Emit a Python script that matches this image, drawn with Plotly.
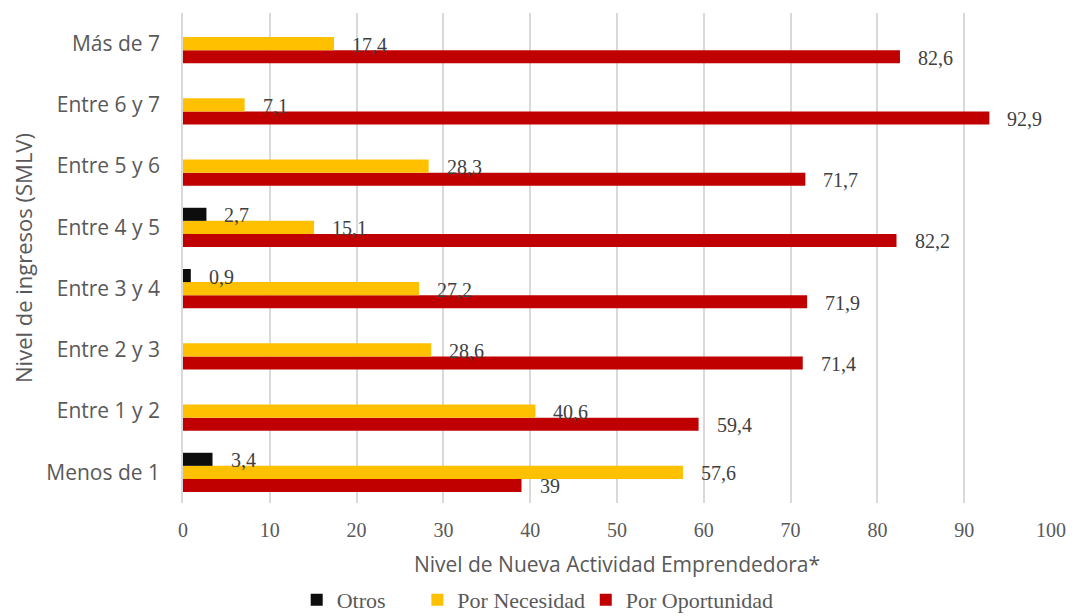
import plotly.graph_objects as go

categories = ["Menos de 1", "Entre 1 y 2", "Entre 2 y 3", "Entre 3 y 4",
              "Entre 4 y 5", "Entre 5 y 6", "Entre 6 y 7", "Más de 7"]
otros = [3.4, None, None, 0.9, 2.7, None, None, None]
por_necesidad = [57.6, 40.6, 28.6, 27.2, 15.1, 28.3, 7.1, 17.4]
por_oportunidad = [39, 59.4, 71.4, 71.9, 82.2, 71.7, 92.9, 82.6]
x_ticks = [0, 10, 20, 30, 40, 50, 60, 70, 80, 90, 100]

# name, values, colour, legend id, legend x (paper)
series = [
    ("Por Oportunidad", por_oportunidad, "#C00000", "legend3", 0.464),
    ("Por Necesidad", por_necesidad, "#FFC000", "legend2", 0.270),
    ("Otros", otros, "#0D0D0D", "legend", 0.131),
]

SERIF = "Liberation Serif, Times New Roman, serif"
SANS = "Open Sans, Noto Sans, sans-serif"
GREY = "#595959"

W, H = 1070, 608
M_L, M_R, M_T, M_B = 175, 27, 5, 113


def fmt(v):
    s = f"{v:.1f}"
    if s.endswith(".0"):
        s = s[:-2]
    return s.replace(".", ",")


fig = go.Figure()
for name, vals, color, leg, lx in series:
    fig.add_trace(go.Bar(
        name=name, y=categories, x=vals, orientation="h",
        marker=dict(color=color, line=dict(width=0)),
        legend=leg,
    ))

plot_h = H - M_T - M_B
slot = plot_h / len(categories)
bargap = 0.36
bar_h = slot * (1 - bargap) / 3
offsets = [-bar_h, 0, bar_h]  # red (bottom), yellow (middle), black (top)
annotations = []
for (name, vals, color, leg, lx), off in zip(series, offsets):
    for cat, v in zip(categories, vals):
        if v is None:
            continue
        annotations.append(dict(
            x=v, y=cat, xref="x", yref="y", text=fmt(v), showarrow=False,
            xanchor="left", yanchor="middle", xshift=16, yshift=off - 1,
            font=dict(family=SERIF, size=20, color="#404040"),
        ))

legend_common = dict(orientation="h", xanchor="left", y=-0.198, yanchor="middle",
                     font=dict(family=SERIF, size=22, color=GREY),
                     itemwidth=30, bgcolor="rgba(0,0,0,0)")
legends = {}
for name, vals, color, leg, lx in series:
    legends[leg] = dict(legend_common, x=lx)

fig.update_layout(
    width=W, height=H,
    barmode="group", bargap=bargap, bargroupgap=0,
    plot_bgcolor="white", paper_bgcolor="white",
    margin=dict(l=M_L, r=M_R, t=M_T, b=M_B, pad=0, autoexpand=False),
    annotations=annotations,
    showlegend=True,
    xaxis=dict(range=[0, 100], tickvals=x_ticks, showgrid=True, gridcolor="#D9D9D9",
               gridwidth=1.5, zeroline=False, showline=False, ticks="",
               ticklabelstandoff=13,
               tickfont=dict(family=SERIF, size=20, color=GREY),
               title=dict(text="Nivel de Nueva Actividad Emprendedora*",
                          font=dict(family=SANS, size=21, color=GREY), standoff=17)),
    yaxis=dict(categoryorder="array", categoryarray=categories, showgrid=False,
               showline=True, linecolor="#D9D9D9", linewidth=1.5, ticks="",
               ticklabelstandoff=17,
               tickfont=dict(family=SANS, size=21, color=GREY),
               title=dict(text="Nivel de ingresos (SMLV)",
                          font=dict(family=SANS, size=22, color=GREY), standoff=16)),
    **legends,
)

fig.write_html("out.html")
